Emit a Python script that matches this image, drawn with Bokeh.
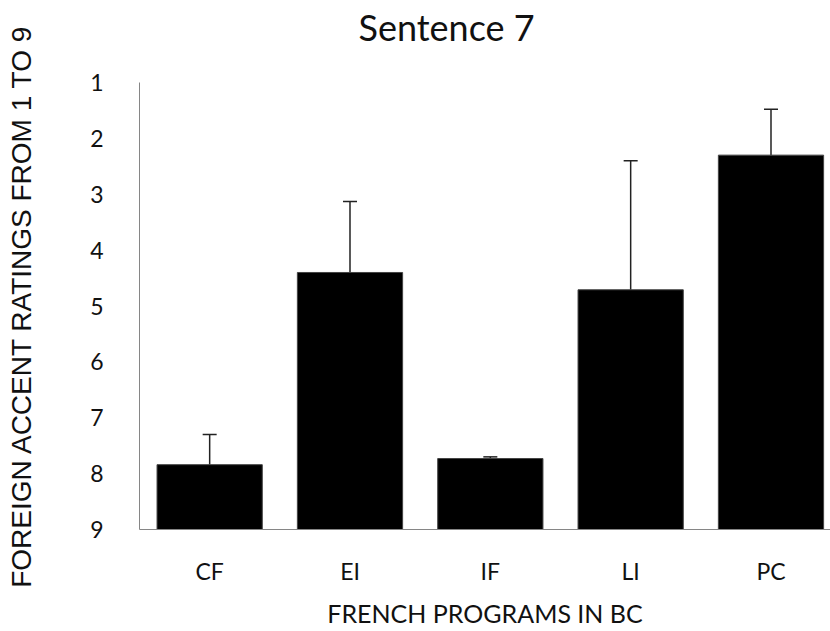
from bokeh.plotting import figure
from bokeh.models import Range1d, FixedTicker, Whisker, TeeHead, ColumnDataSource, Title
from bokeh.embed import file_html
from bokeh.resources import INLINE

# Mean foreign-accent rating per program (1 = native-like, 9 = strong accent)
programs = ["CF", "EI", "IF", "LI", "PC"]
mean_rating = [7.84, 4.40, 7.73, 4.71, 2.30]
std_dev = [0.54, 1.27, 0.03, 2.31, 0.82]
y_ticks = [1, 2, 3, 4, 5, 6, 7, 8, 9]

xpos = list(range(len(programs)))
err_top = [m - s for m, s in zip(mean_rating, std_dev)]

src = ColumnDataSource(dict(x=xpos, mean=mean_rating, err=err_top,
                            base=[max(y_ticks)] * len(programs)))

p = figure(width=830, height=631, output_backend="svg", toolbar_location=None,
           title=None,
           x_range=Range1d(-0.5, 4.424), y_range=Range1d(9, 1),
           min_border_left=139, min_border_right=0, min_border_top=0,
           min_border_bottom=102)

# blank spacer row between the frame and the title
p.add_layout(Title(text=" ", text_font_size="10px", standoff=19), "above")
# chart title
p.add_layout(Title(text="Sentence 7", align="left", offset=219, standoff=4,
                   text_font="Lato", text_font_size="36px",
                   text_font_style="normal", text_color="#111111"), "above")

p.vbar(x="x", width=0.75, bottom="base", top="mean", source=src,
       fill_color="black", line_color="#444444", line_width=1)

whisk = Whisker(base="x", lower="err", upper="mean", source=src,
                line_color="#222222", line_width=1.5,
                lower_head=TeeHead(size=14, line_color="#222222", line_width=1.5),
                upper_head=None)
p.add_layout(whisk)

p.xgrid.visible = False
p.ygrid.visible = False
p.outline_line_color = None

for ax in (p.xaxis[0], p.yaxis[0]):
    ax.axis_line_color = "#868686"
    ax.axis_line_width = 1
    ax.major_tick_line_color = None
    ax.minor_tick_line_color = None
    ax.major_label_text_font = "Lato"
    ax.major_label_text_font_size = "23px"
    ax.major_label_text_color = "#111111"
    ax.axis_label_text_font_style = "normal"
    ax.axis_label_text_color = "#111111"

p.xaxis.ticker = FixedTicker(ticks=xpos)
p.xaxis.major_label_overrides = {i: c for i, c in enumerate(programs)}
p.xaxis.major_label_standoff = 21
p.xaxis.axis_label = "FRENCH PROGRAMS IN BC"
p.xaxis.axis_label_text_font = "Lato"
p.xaxis.axis_label_text_font_size = "25px"
p.xaxis.axis_label_standoff = 10

p.yaxis.ticker = FixedTicker(ticks=y_ticks)
p.yaxis.major_label_standoff = 30
p.yaxis.axis_label = "FOREIGN ACCENT RATINGS FROM 1 TO 9"
p.yaxis.axis_label_text_font = "Liberation Sans"
p.yaxis.axis_label_text_font_size = "28px"
p.yaxis.axis_label_standoff = 50

open("out.html", "w").write(file_html(p, INLINE))
